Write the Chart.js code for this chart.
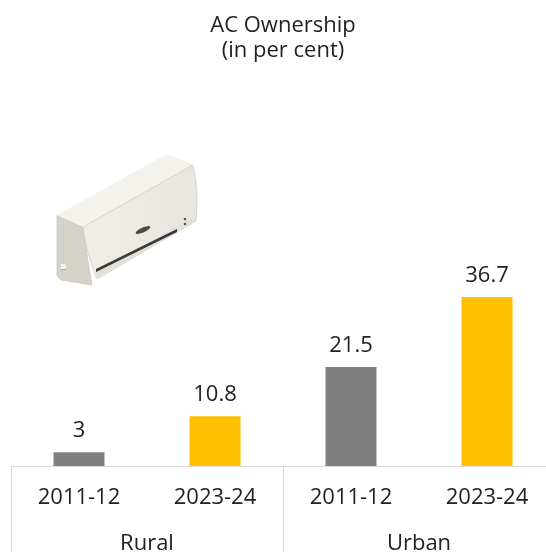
<!DOCTYPE html>
<html>
<head>
<meta charset="utf-8">
<script src="https://cdn.jsdelivr.net/npm/chart.js@4.4.1/dist/chart.umd.min.js"></script>
<style>
  html, body { margin: 0; padding: 0; background: #fff; overflow: hidden; }
  /* the source figure was cut off at the right edge, so the canvas runs a little past the window */
  #wrap { width: 565px; height: 552px; }
</style>
</head>
<body>
<div id="wrap"><canvas id="acChart"></canvas></div>
<script>
const titleLines = ["AC Ownership", "(in per cent)"];
const groups = ["Rural", "Urban"];
const years = ["2011-12", "2023-24", "2011-12", "2023-24"];
const values = [3, 10.8, 21.5, 36.7];
const barColors = ["#7f7f7f", "#ffc000", "#7f7f7f", "#ffc000"];

const FONT = "'Open Sans', sans-serif";
const TEXT = "#222222";
const LINE = "#d9d9d9";

// value labels above each bar
const valueLabels = {
  id: "valueLabels",
  afterDatasetsDraw(chart) {
    const ctx = chart.ctx;
    const meta = chart.getDatasetMeta(0);
    ctx.save();
    ctx.font = "22px " + FONT;
    ctx.fillStyle = TEXT;
    ctx.textAlign = "center";
    ctx.textBaseline = "alphabetic";
    meta.data.forEach((bar, i) => {
      ctx.fillText(String(values[i]), bar.x, bar.y - 15);
    });
    ctx.restore();
  }
};

// table style lines under the bars
const tableLines = {
  id: "tableLines",
  afterDraw(chart) {
    const ctx = chart.ctx;
    const x = chart.scales.x;
    const y0 = x.top;
    const left = chart.chartArea.left;
    const mid = (x.getPixelForValue(1) + x.getPixelForValue(2)) / 2;
    ctx.save();
    ctx.strokeStyle = LINE;
    ctx.lineWidth = 1;
    ctx.beginPath();
    ctx.moveTo(left, y0 + 0.5);
    ctx.lineTo(chart.width, y0 + 0.5);
    ctx.moveTo(Math.round(left) + 0.5, y0);
    ctx.lineTo(Math.round(left) + 0.5, chart.height);
    ctx.moveTo(Math.round(mid) + 0.5, y0);
    ctx.lineTo(Math.round(mid) + 0.5, chart.height);
    ctx.stroke();
    ctx.restore();
  }
};

// rough drawing of the wall AC unit, top left
const acIcon = {
  id: "acIcon",
  beforeDatasetsDraw(chart) {
    const ctx = chart.ctx;
    ctx.save();
    ctx.lineJoin = "round";

    // side cap
    ctx.beginPath();
    ctx.moveTo(57, 215);
    ctx.lineTo(83, 227);
    ctx.quadraticCurveTo(88, 262, 92, 285);
    ctx.lineTo(61, 280);
    ctx.lineTo(57, 276);
    ctx.closePath();
    ctx.fillStyle = "#d5d2c9";
    ctx.fill();
    ctx.strokeStyle = "#c9c6bd";
    ctx.lineWidth = 0.8;
    ctx.stroke();

    // top
    ctx.beginPath();
    ctx.moveTo(57, 215);
    ctx.lineTo(167, 154);
    ctx.lineTo(193, 165);
    ctx.lineTo(83, 227);
    ctx.closePath();
    ctx.fillStyle = "#f3f2ed";
    ctx.fill();

    // front panel
    const g = ctx.createLinearGradient(83, 227, 196, 220);
    g.addColorStop(0, "#efeee8");
    g.addColorStop(1, "#e8e6de");
    ctx.beginPath();
    ctx.moveTo(83, 227);
    ctx.lineTo(193, 165);
    ctx.quadraticCurveTo(199, 192, 196, 221);
    ctx.lineTo(97, 279);
    ctx.quadraticCurveTo(86, 252, 83, 227);
    ctx.closePath();
    ctx.fillStyle = g;
    ctx.fill();
    ctx.strokeStyle = "#cfccc3";
    ctx.stroke();

    // lower lip below the front panel
    ctx.beginPath();
    ctx.moveTo(96, 272);
    ctx.lineTo(196, 216);
    ctx.lineTo(196, 221);
    ctx.lineTo(97, 279);
    ctx.closePath();
    ctx.fillStyle = "#e2e0d8";
    ctx.fill();

    // air slot
    ctx.beginPath();
    ctx.moveTo(96, 269);
    ctx.lineTo(177, 229);
    ctx.lineTo(177, 232);
    ctx.lineTo(96, 272);
    ctx.closePath();
    ctx.fillStyle = "#3a3a3a";
    ctx.fill();

    // display pill
    ctx.translate(143, 230);
    ctx.rotate(-0.42);
    ctx.fillStyle = "#4a4a4a";
    ctx.beginPath();
    ctx.ellipse(0, 0, 8, 2.4, 0, 0, Math.PI * 2);
    ctx.fill();
    ctx.setTransform(1, 0, 0, 1, 0, 0);
    ctx.scale(chart.currentDevicePixelRatio, chart.currentDevicePixelRatio);

    // small buttons and side detail
    ctx.fillStyle = "#555";
    ctx.beginPath();
    ctx.arc(185, 219, 1.3, 0, Math.PI * 2);
    ctx.arc(185, 224, 1.3, 0, Math.PI * 2);
    ctx.fill();
    ctx.fillStyle = "#f6f5f1";
    ctx.fillRect(61, 264, 5, 5);
    ctx.fillStyle = "#a9a69d";
    ctx.fillRect(61, 269, 5, 1);
    ctx.restore();
  }
};

const ctx = document.getElementById("acChart").getContext("2d");
const chart = new Chart(ctx, {
  type: "bar",
  data: {
    labels: years,
    datasets: [
      {
        data: values,
        backgroundColor: barColors,
        borderWidth: 0,
        categoryPercentage: 1,
        barPercentage: 0.375,
      },
    ],
  },
  options: {
    responsive: true,
    maintainAspectRatio: false,
    animation: false,
    layout: { autoPadding: false, padding: { left: 11, right: 10, top: 0, bottom: 0 } },
    plugins: {
      legend: { display: false },
      tooltip: { enabled: false },
      title: {
        display: true,
        text: titleLines,
        color: TEXT,
        font: { family: FONT, size: 22, weight: "normal", lineHeight: 1.1 },
        padding: { top: 14, bottom: 35 },
      },
    },
    scales: {
      x: {
        type: "category",
        offset: true,
        grid: { display: false, drawTicks: false },
        border: { display: false },
        ticks: { color: TEXT, font: { family: FONT, size: 22 }, padding: 19, maxRotation: 0, autoSkip: false },
        afterFit: (s) => { s.height = 56; },
      },
      x2: {
        type: "category",
        labels: groups,
        offset: true,
        position: "bottom",
        grid: { display: false, drawTicks: false },
        border: { display: false },
        ticks: { color: TEXT, font: { family: FONT, size: 22 }, padding: 9, maxRotation: 0, autoSkip: false },
        afterFit: (s) => { s.height = 30; },
      },
      y: {
        display: false,
        min: 0,
        max: 80,
      },
    },
  },
  plugins: [acIcon, valueLabels, tableLines],
});
</script>
</body>
</html>
